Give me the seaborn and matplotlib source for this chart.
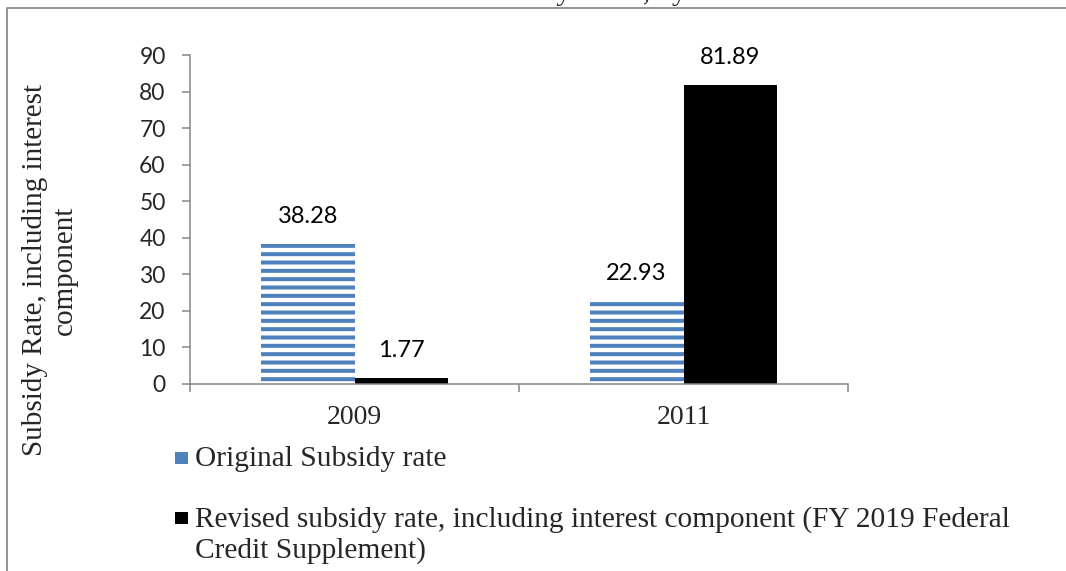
import matplotlib
matplotlib.use("Agg")
import matplotlib.pyplot as plt
from matplotlib.lines import Line2D
from matplotlib.patches import Rectangle
from matplotlib.ticker import FixedLocator, NullFormatter
import seaborn as sns
import pandas as pd

# ---- data ----
years = ["2009", "2011"]
series_names = [
    "Original Subsidy rate",
    "Revised subsidy rate, including interest component (FY 2019 Federal Credit Supplement)",
]
original_rate = [38.28, 22.93]
revised_rate = [1.77, 81.89]
y_ticks = [0, 10, 20, 30, 40, 50, 60, 70, 80, 90]
y_label = "Subsidy Rate, including interest\ncomponent"
title_text = "Subsidy Rates, by Cohort"
legend_labels = [
    "Original Subsidy rate",
    "Revised subsidy rate, including interest component (FY 2019 Federal\nCredit Supplement)",
]

BLUE = "#4F81BD"
BLACK = "#000000"
AXIS_GRAY = "#868686"
SERIF = ["Liberation Serif", "DejaVu Serif"]
SANS = ["Lato", "DejaVu Sans"]

df = pd.DataFrame({
    "Year": years * 2,
    "Series": [series_names[0]] * len(years) + [series_names[1]] * len(years),
    "Rate": original_rate + revised_rate,
})

sns.set_theme(style="white")
plt.rcParams["font.family"] = SANS
plt.rcParams["hatch.linewidth"] = 2.9

W, H = 1066, 571
fig = plt.figure(figsize=(W / 100, H / 100), dpi=100)
ax = fig.add_axes([190 / W, 1 - 384 / H, (848 - 190) / W, (384 - 55) / H])

sns.barplot(data=df, x="Year", y="Rate", hue="Series", order=years,
            hue_order=series_names, palette=[BLUE, BLACK], saturation=1,
            width=0.57, ax=ax, legend=False)

# style original series as horizontal blue stripes
for p in ax.containers[0]:
    p.set_facecolor("white")
    p.set_edgecolor(BLUE)
    p.set_hatch("--")
    p.set_linewidth(0)
for p in ax.containers[1]:
    p.set_edgecolor(BLACK)
    p.set_linewidth(0)

# value labels
for cont in ax.containers:
    for p in cont:
        h = p.get_height()
        ax.annotate(f"{h:.2f}", xy=(p.get_x() + p.get_width() / 2, h),
                    xytext=(0, 19.5), textcoords="offset points",
                    ha="center", va="center", fontsize=17, color="black",
                    family=SANS)

ax.set_ylim(0, 90)
ax.set_xlim(-0.5, len(years) - 0.5)
ax.set_yticks(y_ticks)
ax.set_yticklabels([str(t) for t in y_ticks], family=SANS, fontsize=16.5)
ax.set_xlabel("")
ax.set_ylabel("")
ax.set_xticks(range(len(years)))
ax.set_xticklabels(years, family=SERIF, fontsize=20)
ax.xaxis.set_minor_locator(FixedLocator([i - 0.5 for i in range(len(years) + 1)]))
ax.xaxis.set_minor_formatter(NullFormatter())

for s in ["top", "right"]:
    ax.spines[s].set_visible(False)
for s in ["left", "bottom"]:
    ax.spines[s].set_color(AXIS_GRAY)
    ax.spines[s].set_linewidth(1.1)

ax.tick_params(axis="y", which="major", direction="out", length=5.5, width=1.1,
               color=AXIS_GRAY, pad=12, left=True)
ax.tick_params(axis="x", which="major", length=0, pad=15)
ax.tick_params(axis="x", which="minor", direction="out", length=6, width=1.1,
               color=AXIS_GRAY, bottom=True)
ax.grid(False)

# y label
fig.text(50 / W, 1 - 270 / H, y_label, rotation=90, ha="center", va="center",
         multialignment="center", fontsize=21, family=SERIF, linespacing=1.2)

# clipped title (only descenders visible, as in the reference)
fig.text(626 / W, 1.0, title_text, ha="center", va="baseline",
         fontsize=21, family=SERIF)

# outer frame (left and top edges)
fig.add_artist(Line2D([7 / W, 7 / W, 1.0], [0.0, 1 - 7.5 / H, 1 - 7.5 / H],
                      transform=fig.transFigure, color="#8c8c8c", lw=1.3))

# legend (manual, stacked below)
leg_colors = [BLUE, BLACK]
leg_tops = [446, 506]
for lab, col, top in zip(legend_labels, leg_colors, leg_tops):
    fig.add_artist(Rectangle((175 / W, 1 - (top + 18) / H), 12.5 / W, 12.5 / H,
                             transform=fig.transFigure, facecolor=col,
                             edgecolor="none"))
    fig.text(195 / W, 1 - top / H, lab, ha="left", va="top",
             fontsize=21.2, family=SERIF, linespacing=1.2)

fig.savefig("out.png", dpi=100)
